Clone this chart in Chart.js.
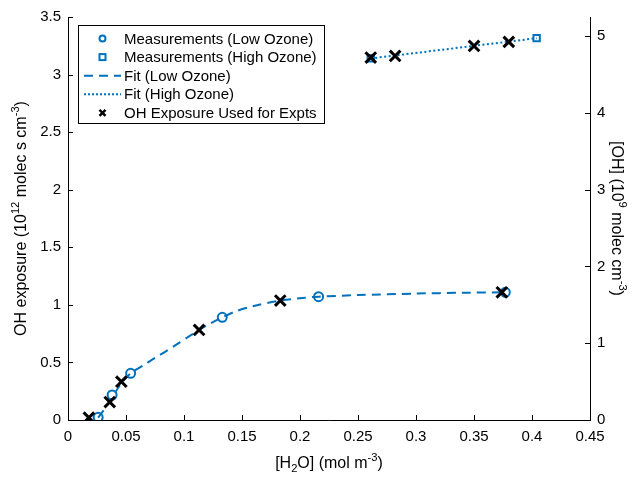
<!DOCTYPE html>
<html>
<head>
<meta charset="utf-8">
<script src="https://cdn.jsdelivr.net/npm/chart.js@4/dist/chart.umd.min.js"></script>
<style>
  html, body { margin: 0; padding: 0; background: #fff; }
  #wrap { width: 636px; height: 480px; }
</style>
</head>
<body>
<div id="wrap"><canvas id="chart" width="636" height="480"></canvas></div>
<script>
// measurements, low ozone
const lowX = [0.026, 0.038, 0.054, 0.133, 0.216, 0.377];
const lowY = [0.023, 0.217, 0.405, 0.892, 1.071, 1.109];

// measurements, high ozone
const highX = [0.261, 0.404];
const highY = [3.142, 3.316];

// fit curves
const fitLowX = [0.026, 0.035, 0.045, 0.054, 0.065, 0.075, 0.085, 0.095, 0.105, 0.113, 0.123, 0.133, 0.145, 0.16, 0.183, 0.2, 0.216, 0.25, 0.3, 0.34, 0.377];
const fitLowY = [0.02, 0.145, 0.305, 0.405, 0.475, 0.54, 0.60, 0.665, 0.73, 0.782, 0.84, 0.892, 0.945, 0.99, 1.037, 1.058, 1.071, 1.085, 1.098, 1.105, 1.109];
const fitHighX = [0.261, 0.404];
const fitHighY = [3.140, 3.316];

// exposures picked for experiments
const exptX = [0.018, 0.036, 0.046, 0.113, 0.183, 0.374, 0.261, 0.282, 0.350, 0.380];
const exptY = [0.02, 0.156, 0.333, 0.782, 1.037, 1.109, 3.148, 3.162, 3.249, 3.284];

const xTicks = [0, 0.05, 0.1, 0.15, 0.2, 0.25, 0.3, 0.35, 0.4, 0.45];
const yTicks = [0, 0.5, 1, 1.5, 2, 2.5, 3, 3.5];
const y2Ticks = [0, 1, 2, 3, 4, 5];

const BLUE = '#0072BD';
const FONT = '"Liberation Sans", Arial, Helvetica, sans-serif';

const pts = (xs, ys) => xs.map((x, i) => ({ x: x, y: ys[i] }));

const legendItems = [
  { text: 'Measurements (Low Ozone)', kind: 'circle' },
  { text: 'Measurements (High Ozone)', kind: 'square' },
  { text: 'Fit (Low Ozone)', kind: 'dash' },
  { text: 'Fit (High Ozone)', kind: 'dot' },
  { text: 'OH Exposure Used for Expts', kind: 'cross' }
];

// draw a string made of normal / ^sup / _sub parts
function richText(ctx, parts, size) {
  let w = 0;
  parts.forEach(p => {
    ctx.font = (p[1] ? size * 0.7 : size) + 'px ' + FONT;
    w += ctx.measureText(p[0]).width;
  });
  let x = -w / 2;
  parts.forEach(p => {
    ctx.font = (p[1] ? size * 0.7 : size) + 'px ' + FONT;
    let dy = p[1] === 'sup' ? -size * 0.4 : (p[1] === 'sub' ? size * 0.3 : 0);
    ctx.fillText(p[0], x, dy);
    x += ctx.measureText(p[0]).width;
  });
}

const matlabLook = {
  id: 'matlabLook',
  afterDraw(chart) {
    const ctx = chart.ctx;
    const a = chart.chartArea;
    const sx = chart.scales.x, sy = chart.scales.y, sy2 = chart.scales.y2;
    ctx.save();
    ctx.strokeStyle = '#000';
    ctx.lineWidth = 1;
    // inward ticks
    ctx.beginPath();
    xTicks.forEach(v => {
      const px = Math.round(sx.getPixelForValue(v)) + 0.5;
      ctx.moveTo(px, a.bottom); ctx.lineTo(px, a.bottom - 5);
    });
    yTicks.forEach(v => {
      const py = Math.round(sy.getPixelForValue(v)) + 0.5;
      ctx.moveTo(a.left, py); ctx.lineTo(a.left + 5, py);
    });
    y2Ticks.forEach(v => {
      const py = Math.round(sy2.getPixelForValue(v)) + 0.5;
      ctx.moveTo(a.right, py); ctx.lineTo(a.right - 5, py);
    });
    ctx.stroke();

    // axis titles
    ctx.fillStyle = '#000';
    ctx.textBaseline = 'middle';
    ctx.textAlign = 'left';
    ctx.save();
    ctx.translate((a.left + a.right) / 2, 464);
    richText(ctx, [['[H'], ['2', 'sub'], ['O] (mol m'], ['-3', 'sup'], [')']], 16);
    ctx.restore();

    ctx.save();
    ctx.translate(22, (a.top + a.bottom) / 2);
    ctx.rotate(-Math.PI / 2);
    richText(ctx, [['OH exposure (10'], ['12', 'sup'], [' molec s cm'], ['-3', 'sup'], [')']], 16);
    ctx.restore();

    ctx.save();
    ctx.translate(616, (a.top + a.bottom) / 2);
    ctx.rotate(Math.PI / 2);
    richText(ctx, [['[OH] (10'], ['9', 'sup'], [' molec cm'], ['-3', 'sup'], [')']], 16);
    ctx.restore();

    // legend box
    const bx = 78.5, by = 25.5, bw = 246, bh = 98;
    ctx.fillStyle = '#fff';
    ctx.fillRect(bx, by, bw, bh);
    ctx.strokeStyle = '#000';
    ctx.lineWidth = 1;
    ctx.strokeRect(bx, by, bw, bh);
    ctx.font = '15px ' + FONT;
    legendItems.forEach((it, i) => {
      const y = 38.5 + i * 18.6;
      const mx = 102.5;
      ctx.strokeStyle = BLUE;
      ctx.lineWidth = 2;
      ctx.setLineDash([]);
      ctx.beginPath();
      if (it.kind === 'circle') {
        ctx.arc(mx, y, 3, 0, Math.PI * 2);
        ctx.stroke();
      } else if (it.kind === 'square') {
        ctx.strokeRect(mx - 3, y - 3, 6, 6);
      } else if (it.kind === 'dash') {
        ctx.setLineDash([9, 6]);
        ctx.moveTo(84, y); ctx.lineTo(121, y);
        ctx.stroke();
      } else if (it.kind === 'dot') {
        ctx.setLineDash([2, 2]);
        ctx.moveTo(84, y); ctx.lineTo(121, y);
        ctx.stroke();
      } else {
        ctx.strokeStyle = '#000';
        ctx.lineWidth = 2.5;
        ctx.moveTo(mx - 3, y - 3); ctx.lineTo(mx + 3, y + 3);
        ctx.moveTo(mx + 3, y - 3); ctx.lineTo(mx - 3, y + 3);
        ctx.stroke();
      }
      ctx.setLineDash([]);
      ctx.fillStyle = '#000';
      ctx.textAlign = 'left';
      ctx.fillText(it.text, 124, y + 1);
    });
    ctx.restore();
  }
};

const tickFont = { family: FONT, size: 15 };

new Chart(document.getElementById('chart'), {
  type: 'scatter',
  data: {
    datasets: [
      {
        label: 'OH Exposure Used for Expts',
        data: pts(exptX, exptY),
        pointStyle: 'crossRot',
        pointRadius: 7.5,
        borderWidth: 3,
        borderColor: '#000',
        showLine: false,
        order: 0
      },
      {
        label: 'Measurements (Low Ozone)',
        data: pts(lowX, lowY),
        pointStyle: 'circle',
        pointRadius: 4.5,
        borderWidth: 2,
        borderColor: BLUE,
        backgroundColor: 'rgba(0,0,0,0)',
        showLine: false,
        order: 1
      },
      {
        label: 'Measurements (High Ozone)',
        data: pts(highX, highY),
        pointStyle: 'rect',
        pointRadius: 4.5,
        borderWidth: 2,
        borderColor: BLUE,
        backgroundColor: 'rgba(0,0,0,0)',
        showLine: false,
        order: 2
      },
      {
        label: 'Fit (Low Ozone)',
        data: pts(fitLowX, fitLowY),
        showLine: true,
        pointRadius: 0,
        borderColor: BLUE,
        borderWidth: 2,
        borderDash: [9, 6],
        tension: 0.3,
        order: 3
      },
      {
        label: 'Fit (High Ozone)',
        data: pts(fitHighX, fitHighY),
        showLine: true,
        pointRadius: 0,
        borderColor: BLUE,
        borderWidth: 2,
        borderDash: [2, 2.5],
        order: 4
      }
    ]
  },
  options: {
    responsive: false,
    animation: false,
    layout: { padding: { top: 17, left: 0, right: 0, bottom: 0 } },
    plugins: { legend: { display: false }, tooltip: { enabled: false } },
    scales: {
      x: {
        type: 'linear',
        min: 0, max: 0.45,
        afterBuildTicks: s => { s.ticks = xTicks.map(v => ({ value: v })); },
        ticks: { font: tickFont, color: '#000', padding: 8, maxRotation: 0, callback: v => String(v) },
        grid: { display: true, drawOnChartArea: false, drawTicks: false },
        border: { display: true, color: '#000', width: 1 },
        afterFit: s => { s.height = 60; }
      },
      y: {
        type: 'linear',
        position: 'left',
        min: 0, max: 3.5,
        afterBuildTicks: s => { s.ticks = yTicks.map(v => ({ value: v })); },
        ticks: { font: tickFont, color: '#000', padding: 7, callback: v => String(v) },
        grid: { display: true, drawOnChartArea: false, drawTicks: false },
        border: { display: true, color: '#000', width: 1 },
        afterFit: s => { s.width = 68; }
      },
      y2: {
        type: 'linear',
        position: 'right',
        min: 0, max: 5.25,
        afterBuildTicks: s => { s.ticks = y2Ticks.map(v => ({ value: v })); },
        ticks: { font: tickFont, color: '#000', padding: 7, callback: v => String(v) },
        grid: { display: true, drawOnChartArea: false, drawTicks: false },
        border: { display: true, color: '#000', width: 1 },
        afterFit: s => { s.width = 46; }
      }
    }
  },
  plugins: [matlabLook]
});
</script>
</body>
</html>
